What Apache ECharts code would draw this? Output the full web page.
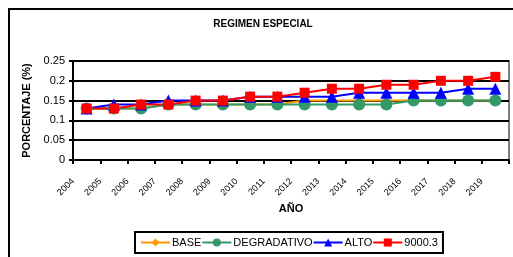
<!DOCTYPE html>
<html><head><meta charset="utf-8">
<script src="https://cdn.jsdelivr.net/npm/echarts@6/dist/echarts.min.js"></script>
<style>html,body{margin:0;padding:0;background:#fff}#c{width:513px;height:257px}</style>
</head><body><div id="c"></div>
<script>
const years = ['2004','2005','2006','2007','2008','2009','2010','2011','2012','2013','2014','2015','2016','2017','2018','2019'];
const base = [0.13,0.13,0.13,0.14,0.14,0.14,0.14,0.14,0.15,0.15,0.15,0.15,0.15,0.15,0.15,0.15];
const degradativo = [0.13,0.13,0.13,0.14,0.14,0.14,0.14,0.14,0.14,0.14,0.14,0.14,0.15,0.15,0.15,0.15];
const alto = [0.13,0.14,0.14,0.15,0.15,0.15,0.16,0.16,0.16,0.16,0.17,0.17,0.17,0.17,0.18,0.18];
const s9000 = [0.13,0.13,0.14,0.14,0.15,0.15,0.16,0.16,0.17,0.18,0.18,0.19,0.19,0.20,0.20,0.21];
const yTicks = [0,0.05,0.1,0.15,0.2,0.25];
const font = 'Liberation Sans, Arial, sans-serif';
const chart = echarts.init(document.getElementById('c'), null, {renderer:'canvas'});
const mk = (name, data, color, symbol, size) => ({
  name, type:'line', data, xAxisIndex:0, yAxisIndex:0,
  symbol, symbolSize:size, showSymbol:true,
  lineStyle:{color, width:2}, itemStyle:{color}, animation:false
});
chart.setOption({
  animation:false,
  textStyle:{fontFamily:font},
  graphic:[{type:'rect', shape:{x:9,y:9,width:600,height:300}, style:{fill:'none', stroke:'#000', lineWidth:2}, z:-1}],
  title:{text:'REGIMEN ESPECIAL', left:263, top:19, textAlign:'center', padding:0,
    textStyle:{fontSize:10, fontWeight:'bold', color:'#000', fontFamily:font}},
  grid:{left:73, right:4, top:61, bottom:97, show:true, borderColor:'#808080', borderWidth:2},
  legend:{left:135, top:232, itemWidth:29, itemHeight:10, itemGap:0,
    padding:[5,5,5,5], borderColor:'#000', borderWidth:2, backgroundColor:'#fff',
    textStyle:{fontSize:11, color:'#000', fontFamily:font, padding:[0,0,0,-3]},
    data:['BASE','DEGRADATIVO','ALTO','9000.3']},
  xAxis:[
    {type:'category', data:years, boundaryGap:true, position:'bottom',
     axisLine:{lineStyle:{color:'#000', width:2}},
     axisTick:{show:true, alignWithLabel:false, interval:0, length:4, lineStyle:{color:'#000', width:2}},
     axisLabel:{show:false}, splitLine:{show:false},
     name:'AÑO', nameLocation:'middle', nameGap:43,
     nameTextStyle:{fontSize:11, fontWeight:'bold', color:'#000', fontFamily:font}},
    {type:'category', data:years.concat(['']), boundaryGap:false, position:'bottom',
     axisLine:{show:false}, axisTick:{show:false}, splitLine:{show:false},
     axisLabel:{show:true, interval:0, rotate:45, margin:20, fontSize:9, color:'#000', fontFamily:font}}
  ],
  yAxis:{type:'value', min:0, max:0.25, interval:0.05,
    axisLine:{show:true, lineStyle:{color:'#000', width:2}},
    axisTick:{show:true, length:4, lineStyle:{color:'#000', width:2}},
    axisLabel:{fontSize:11, color:'#000', fontFamily:font, margin:8,
      formatter:v=>{const t=yTicks.find(x=>Math.abs(x-v)<1e-9); return String(t!==undefined?t:v);}},
    splitLine:{show:true, lineStyle:{color:'#000', width:2}},
    name:'PORCENTAJE (%)', nameLocation:'middle', nameGap:31,
    nameTextStyle:{fontSize:11, fontWeight:'bold', color:'#000', fontFamily:font}},
  series:[
    mk('BASE', base, '#FF9900', 'diamond', 8),
    mk('DEGRADATIVO', degradativo, '#339966', 'circle', 12),
    mk('ALTO', alto, '#0000FF', 'triangle', 12),
    mk('9000.3', s9000, '#FF0000', 'rect', 10)
  ]
});
</script></body></html>
